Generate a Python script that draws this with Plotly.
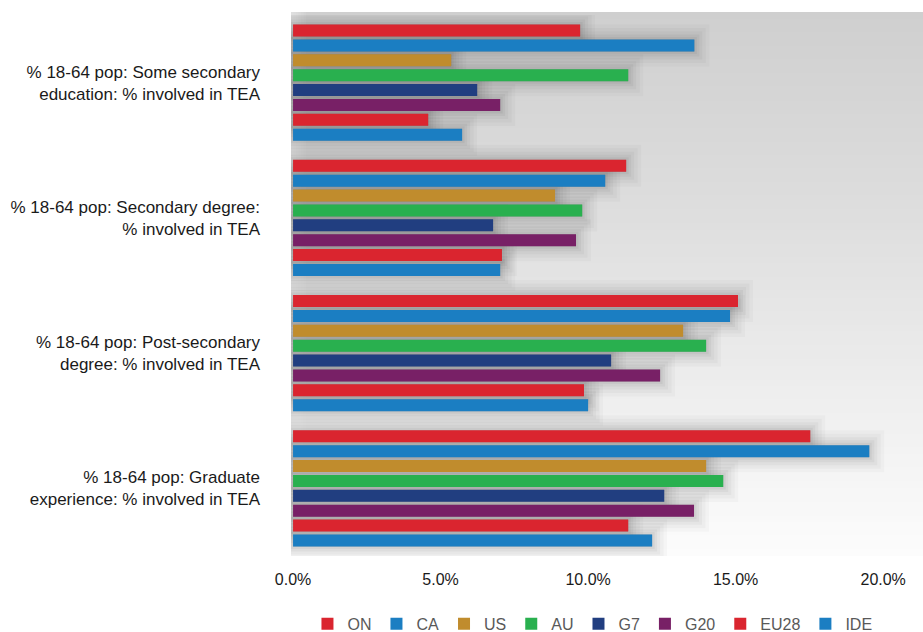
import plotly.graph_objects as go

categories = [
    "% 18-64 pop: Some secondary<br>education: % involved in TEA",
    "% 18-64 pop: Secondary degree:<br>% involved in TEA",
    "% 18-64 pop: Post-secondary<br>degree: % involved in TEA",
    "% 18-64 pop: Graduate<br>experience: % involved in TEA",
]
series_names = ["ON", "CA", "US", "AU", "G7", "G20", "EU28", "IDE"]
ON = [9.73, 11.29, 15.08, 17.53]
CA = [13.6, 10.58, 14.81, 19.53]
US = [5.36, 8.88, 13.22, 14.0]
AU = [11.36, 9.8, 14.0, 14.58]
G7 = [6.24, 6.78, 10.78, 12.58]
G20 = [7.02, 9.59, 12.44, 13.59]
EU28 = [4.58, 7.08, 9.86, 11.36]
IDE = [5.73, 7.02, 10.0, 12.17]
series_values = [ON, CA, US, AU, G7, G20, EU28, IDE]
x_ticks = [0, 5, 10, 15, 20]
x_tick_labels = ["0.0%", "5.0%", "10.0%", "15.0%", "20.0%"]

colors = ["#DA252F", "#1B7EC2", "#C08C2D", "#29B04F", "#213E80", "#782066", "#DA252F", "#1B7EC2"]

fig = go.Figure()

# soft shadow layers (same data, drawn beneath the real bars)
shadow_layers = [("y", 30, 0.022), ("y2", 23, 0.027), ("y3", 16, 0.032),
                 ("y4", 10, 0.038), ("y5", 5, 0.045)]
for axis, lw, alpha in shadow_layers:
    for name, vals in zip(series_names, series_values):
        fig.add_trace(go.Bar(
            y=categories, x=vals, orientation="h", yaxis=axis,
            marker=dict(color=f"rgba(0,0,0,{alpha})",
                        line=dict(color=f"rgba(0,0,0,{alpha})", width=lw)),
            showlegend=False, hoverinfo="skip", name=name,
        ))

for name, vals, c in zip(series_names, series_values, colors):
    fig.add_trace(go.Bar(
        y=categories, x=vals, orientation="h", yaxis="y6", name=name,
        marker=dict(color=c, line=dict(width=0)),
    ))

# background gradient (vertical) as bands, extended slightly above the plot area
shapes = []
n = 80
top_ext = 1.0 + 3 / 541
top = (0xCF, 0xCF, 0xCF)
mid = (0xDD, 0xDD, 0xDD)
bot = (0xFC, 0xFC, 0xFC)
for i in range(n):
    t = i / (n - 1)
    if t < 0.35:
        u = t / 0.35
        c = [round(top[k] + (mid[k] - top[k]) * u) for k in range(3)]
    else:
        u = (t - 0.35) / 0.65
        c = [round(mid[k] + (bot[k] - mid[k]) * u) for k in range(3)]
    y1 = top_ext - i / n * top_ext
    y0 = top_ext - (i + 1) / n * top_ext - 0.002
    shapes.append(dict(type="rect", xref="paper", yref="paper", x0=0, x1=1,
                       y0=max(y0, 0), y1=y1, fillcolor=f"rgb({c[0]},{c[1]},{c[2]})",
                       line=dict(width=0), layer="below"))
for j in range(6):
    shapes.append(dict(type="rect", xref="paper", yref="paper", x0=0, x1=0.004 * (6 - j),
                       y0=0, y1=top_ext, fillcolor="rgba(255,255,255,0.08)",
                       line=dict(width=0), layer="below"))

yax = dict(autorange="reversed", showgrid=False, zeroline=False, showline=False,
           tickfont=dict(family="Liberation Sans, Arial", size=17, color="#1a1a1a"),
           ticklabelstandoff=30, ticks="", automargin=False)
layout_axes = {"yaxis": yax}
for k in range(2, 7):
    layout_axes[f"yaxis{k}"] = dict(yax, overlaying="y", showticklabels=False)

fig.update_layout(
    width=923, height=632,
    margin=dict(l=291, r=0, t=15, b=76, autoexpand=False),
    paper_bgcolor="white", plot_bgcolor="rgba(0,0,0,0)",
    barmode="group", bargap=0.12, bargroupgap=0.2,
    shapes=shapes,
    xaxis=dict(range=[-0.07, 21.35], tickvals=x_ticks, ticktext=x_tick_labels,
               showgrid=False, zeroline=False, showline=False, ticks="",
               ticklabelstandoff=12, automargin=False,
               tickfont=dict(family="Liberation Sans, Arial", size=16, color="#1a1a1a")),
    legend=dict(orientation="h", x=0.477, xanchor="center",
                yref="container", y=0.013, yanchor="middle",
                font=dict(family="Liberation Sans, Arial", size=16, color="#595959"),
                itemwidth=30, traceorder="normal"),
    showlegend=True,
    **layout_axes,
)

fig.write_html(
    "out.html",
    config={"displayModeBar": False},
    post_script=("document.body.style.margin='0';"
                 "document.body.style.overflow='hidden';"
                 "document.documentElement.style.overflow='hidden';"),
)
